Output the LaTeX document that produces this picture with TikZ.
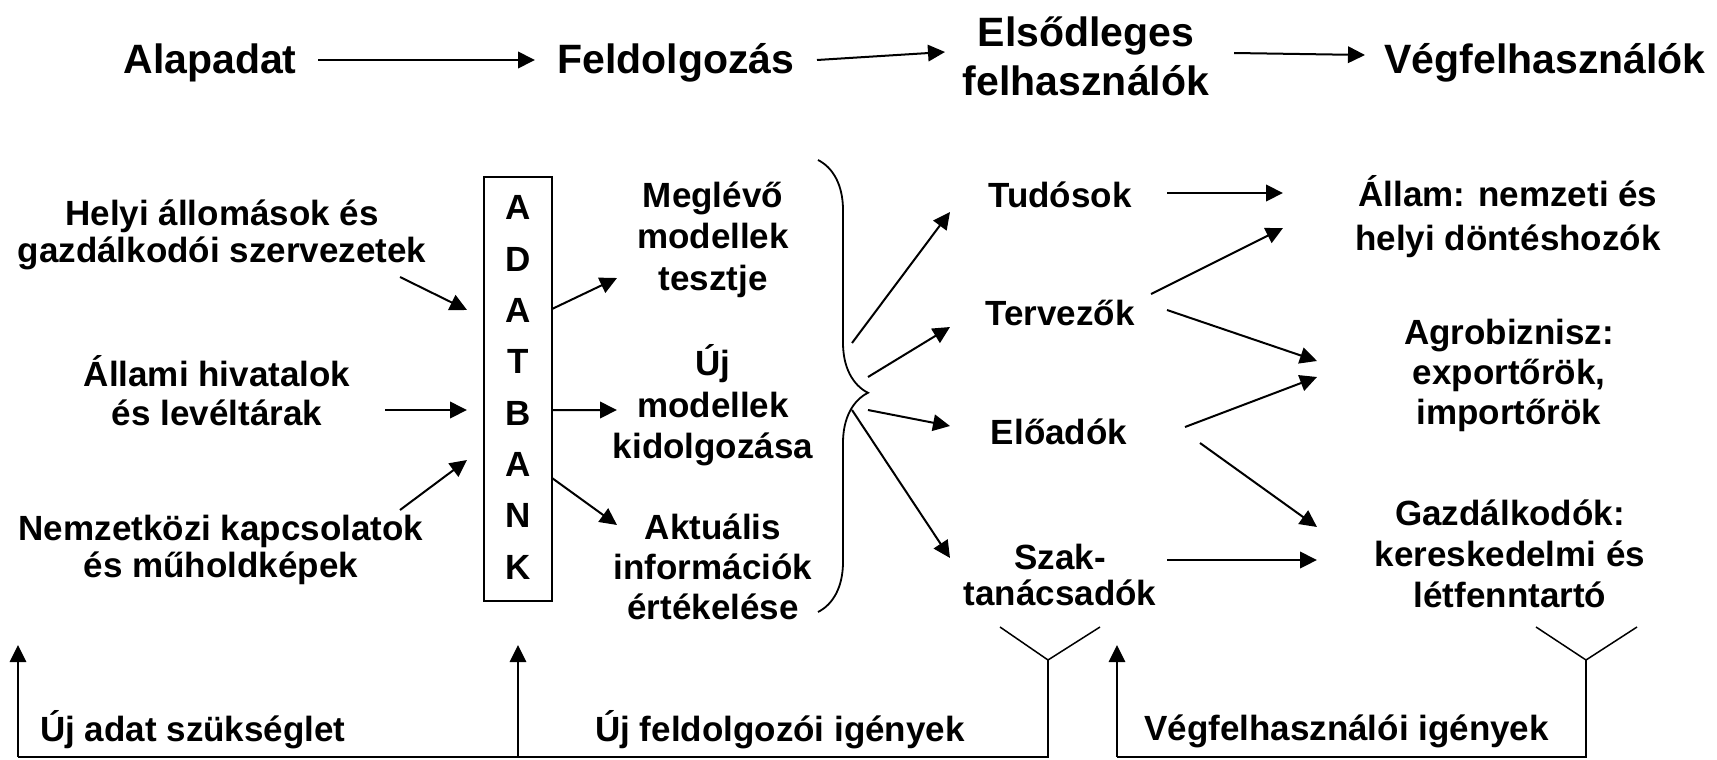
\documentclass[tikz,border=0pt]{standalone}
\usepackage{fontspec}
\setmainfont{Liberation Sans}
\usetikzlibrary{arrows.meta,decorations.pathreplacing,calc}
\newcommand\myst{\rule[-0.2em]{0pt}{1em}}
\begin{document}
\begin{tikzpicture}[x=1bp,y=-1bp,
  toptxt/.style={font=\fontsize{41bp}{49bp}\selectfont\bfseries, align=center, inner sep=0pt},
  txt/.style={font=\fontsize{35bp}{#1}\selectfont\bfseries, align=center, inner sep=0pt},
  txt/.default=41bp,
  arr/.style={-{Triangle[length=17bp,width=16.5bp]}, line width=2bp},
  thin/.style={line width=1.5bp},
  bankbox/.style={draw, line width=1.8bp, minimum width=68bp, minimum height=424bp, inner sep=0pt,
    font=\fontsize{35bp}{51.3bp}\selectfont\bfseries, align=center}
]
\useasboundingbox (0,0) rectangle (1717,760);

% top row
\node[toptxt] (alap) at (210,61) {\myst Alapadat};
\node[toptxt] (feld) at (676,61) {\myst Feldolgozás};
\node[toptxt] (elso) at (1086,58.5) {\myst Elsődleges\\\myst felhasználók};
\node[toptxt] (veg)  at (1545,61) {\myst Végfelhasználók};

\draw[arr] ($(alap)+(108,-1)$) -- ($(feld)+(-141,-1)$);
\draw[arr] ($(feld)+(141,-1)$) -- ($(elso)+(-141,-6.5)$);
\draw[arr] ($(elso)+(148,-5.5)$) -- ($(veg)+(-180,-6)$);

% left column
\node[txt=37bp] (helyi)  at (222,233.5) {\myst Helyi állomások és\\\myst gazdálkodói szervezetek};
\node[txt=39bp] (allami) at (217,394) {\myst Állami hivatalok\\\myst és levéltárak};
\node[txt=37bp] (nemz)   at (221,548.5) {\myst Nemzetközi kapcsolatok\\\myst és műholdképek};

% data bank
\node[bankbox] (box) at (518,389) {\myst A\\\myst D\\\myst A\\\myst T\\\myst B\\\myst A\\\myst N\\\myst K};

\draw[arr] ($(helyi)+(178,43.5)$) -- ($(box)+(-51,-79)$);
\draw[arr] ($(allami)+(168,16)$) -- ($(box)+(-51,21)$);
\draw[arr] ($(nemz)+(179,-38.5)$) -- ($(box)+(-51,71)$);

% middle column
\node[txt=41.5bp] (meg) at (713,238.5) {\myst Meglévő\\\myst modellek\\\myst tesztje};
\node[txt=41.5bp] (uj)  at (713,405.5) {\myst Új\\\myst modellek\\\myst kidolgozása};
\node[txt=40bp]   (akt) at (713,569) {\myst Aktuális\\\myst információk\\\myst értékelése};

\draw[arr] ($(box)+(34,-80)$) -- ($(meg)+(-96,39.5)$);
\draw[arr] ($(box)+(34,21)$) -- ($(uj)+(-96,4.5)$);
\draw[arr] ($(box)+(34,89)$) -- ($(akt)+(-96,-44)$);

% brace
\draw[line width=1.8bp, decorate, decoration={brace, amplitude=50bp, aspect=0.515}] (818,160) -- (818,612);
\coordinate (b1) at (852,343);
\coordinate (b2) at (868,377);
\coordinate (b3) at (868,410);
\coordinate (b4) at (852,410);

% second column
\node[txt] (tud)  at (1060,197) {\myst Tudósok};
\node[txt] (terv) at (1060,315) {\myst Tervezők};
\node[txt] (eloa) at (1059,434) {\myst Előadók};
\node[txt=36bp] (szak) at (1060,577) {\myst Szak-\\\myst tanácsadók};

\draw[arr] (b1) -- ($(tud)+(-110,15)$);
\draw[arr] (b2) -- ($(terv)+(-110,12)$);
\draw[arr] (b3) -- ($(eloa)+(-109,-8)$);
\draw[arr] (b4) -- ($(szak)+(-110,-19)$);

% third column
\node[txt=44bp] (allam) at (1508,217) {\myst Állam: nemzeti és\\\myst helyi döntéshozók};
\node[txt=40bp] (agro)  at (1509,374) {\myst Agrobiznisz:\\\myst exportőrök,\\\myst importőrök};
\node[txt=41bp] (gazd)  at (1510,556) {\myst Gazdálkodók:\\\myst kereskedelmi és\\\myst létfenntartó};

\draw[arr] ($(tud)+(107,-4)$) -- ($(allam)+(-225,-24)$);
\draw[arr] ($(terv)+(91,-21)$) -- ($(allam)+(-225,11)$);
\draw[arr] ($(terv)+(107,-5)$) -- ($(agro)+(-192,-13)$);
\draw[arr] ($(eloa)+(126,-7)$) -- ($(agro)+(-192,3)$);
\draw[arr] ($(eloa)+(141,9)$) -- ($(gazd)+(-193,-29)$);
\draw[arr] ($(szak)+(107,-17)$) -- ($(gazd)+(-193,4)$);

% feedback lines
\coordinate (y1l) at (1000,627);
\coordinate (y1r) at (1100,627);
\coordinate (y1a) at (1048,660);
\coordinate (y1b) at (1048,757);
\coordinate (y2l) at (1536,627);
\coordinate (y2r) at (1637,627);
\coordinate (y2a) at (1586,660);
\coordinate (y2b) at (1586,757);
\coordinate (f1) at (18,757);
\coordinate (f1t) at (18,645);
\coordinate (f2) at (518,757);
\coordinate (f2t) at (518,645);
\coordinate (f3) at (1117,757);
\coordinate (f3t) at (1117,645);

\draw[thin] (y1l) -- (y1a) -- (y1r);
\draw[thin] (y1a) -- (y1b) -- (f1);
\draw[thin] (y2l) -- (y2a) -- (y2r);
\draw[thin] (y2a) -- (y2b) -- (f3);
\draw[arr, line width=1.5bp] (f1) -- (f1t);
\draw[arr, line width=1.5bp] (f2) -- (f2t);
\draw[arr, line width=1.5bp] (f3) -- (f3t);

\node[txt, anchor=west] (lab1) at (40,730) {\myst Új adat szükséglet};
\node[txt, anchor=west] (lab2) at (595,730) {\myst Új feldolgozói igények};
\node[txt, anchor=west] (lab3) at (1144,730) {\myst Végfelhasználói igények};
\end{tikzpicture}
\end{document}
